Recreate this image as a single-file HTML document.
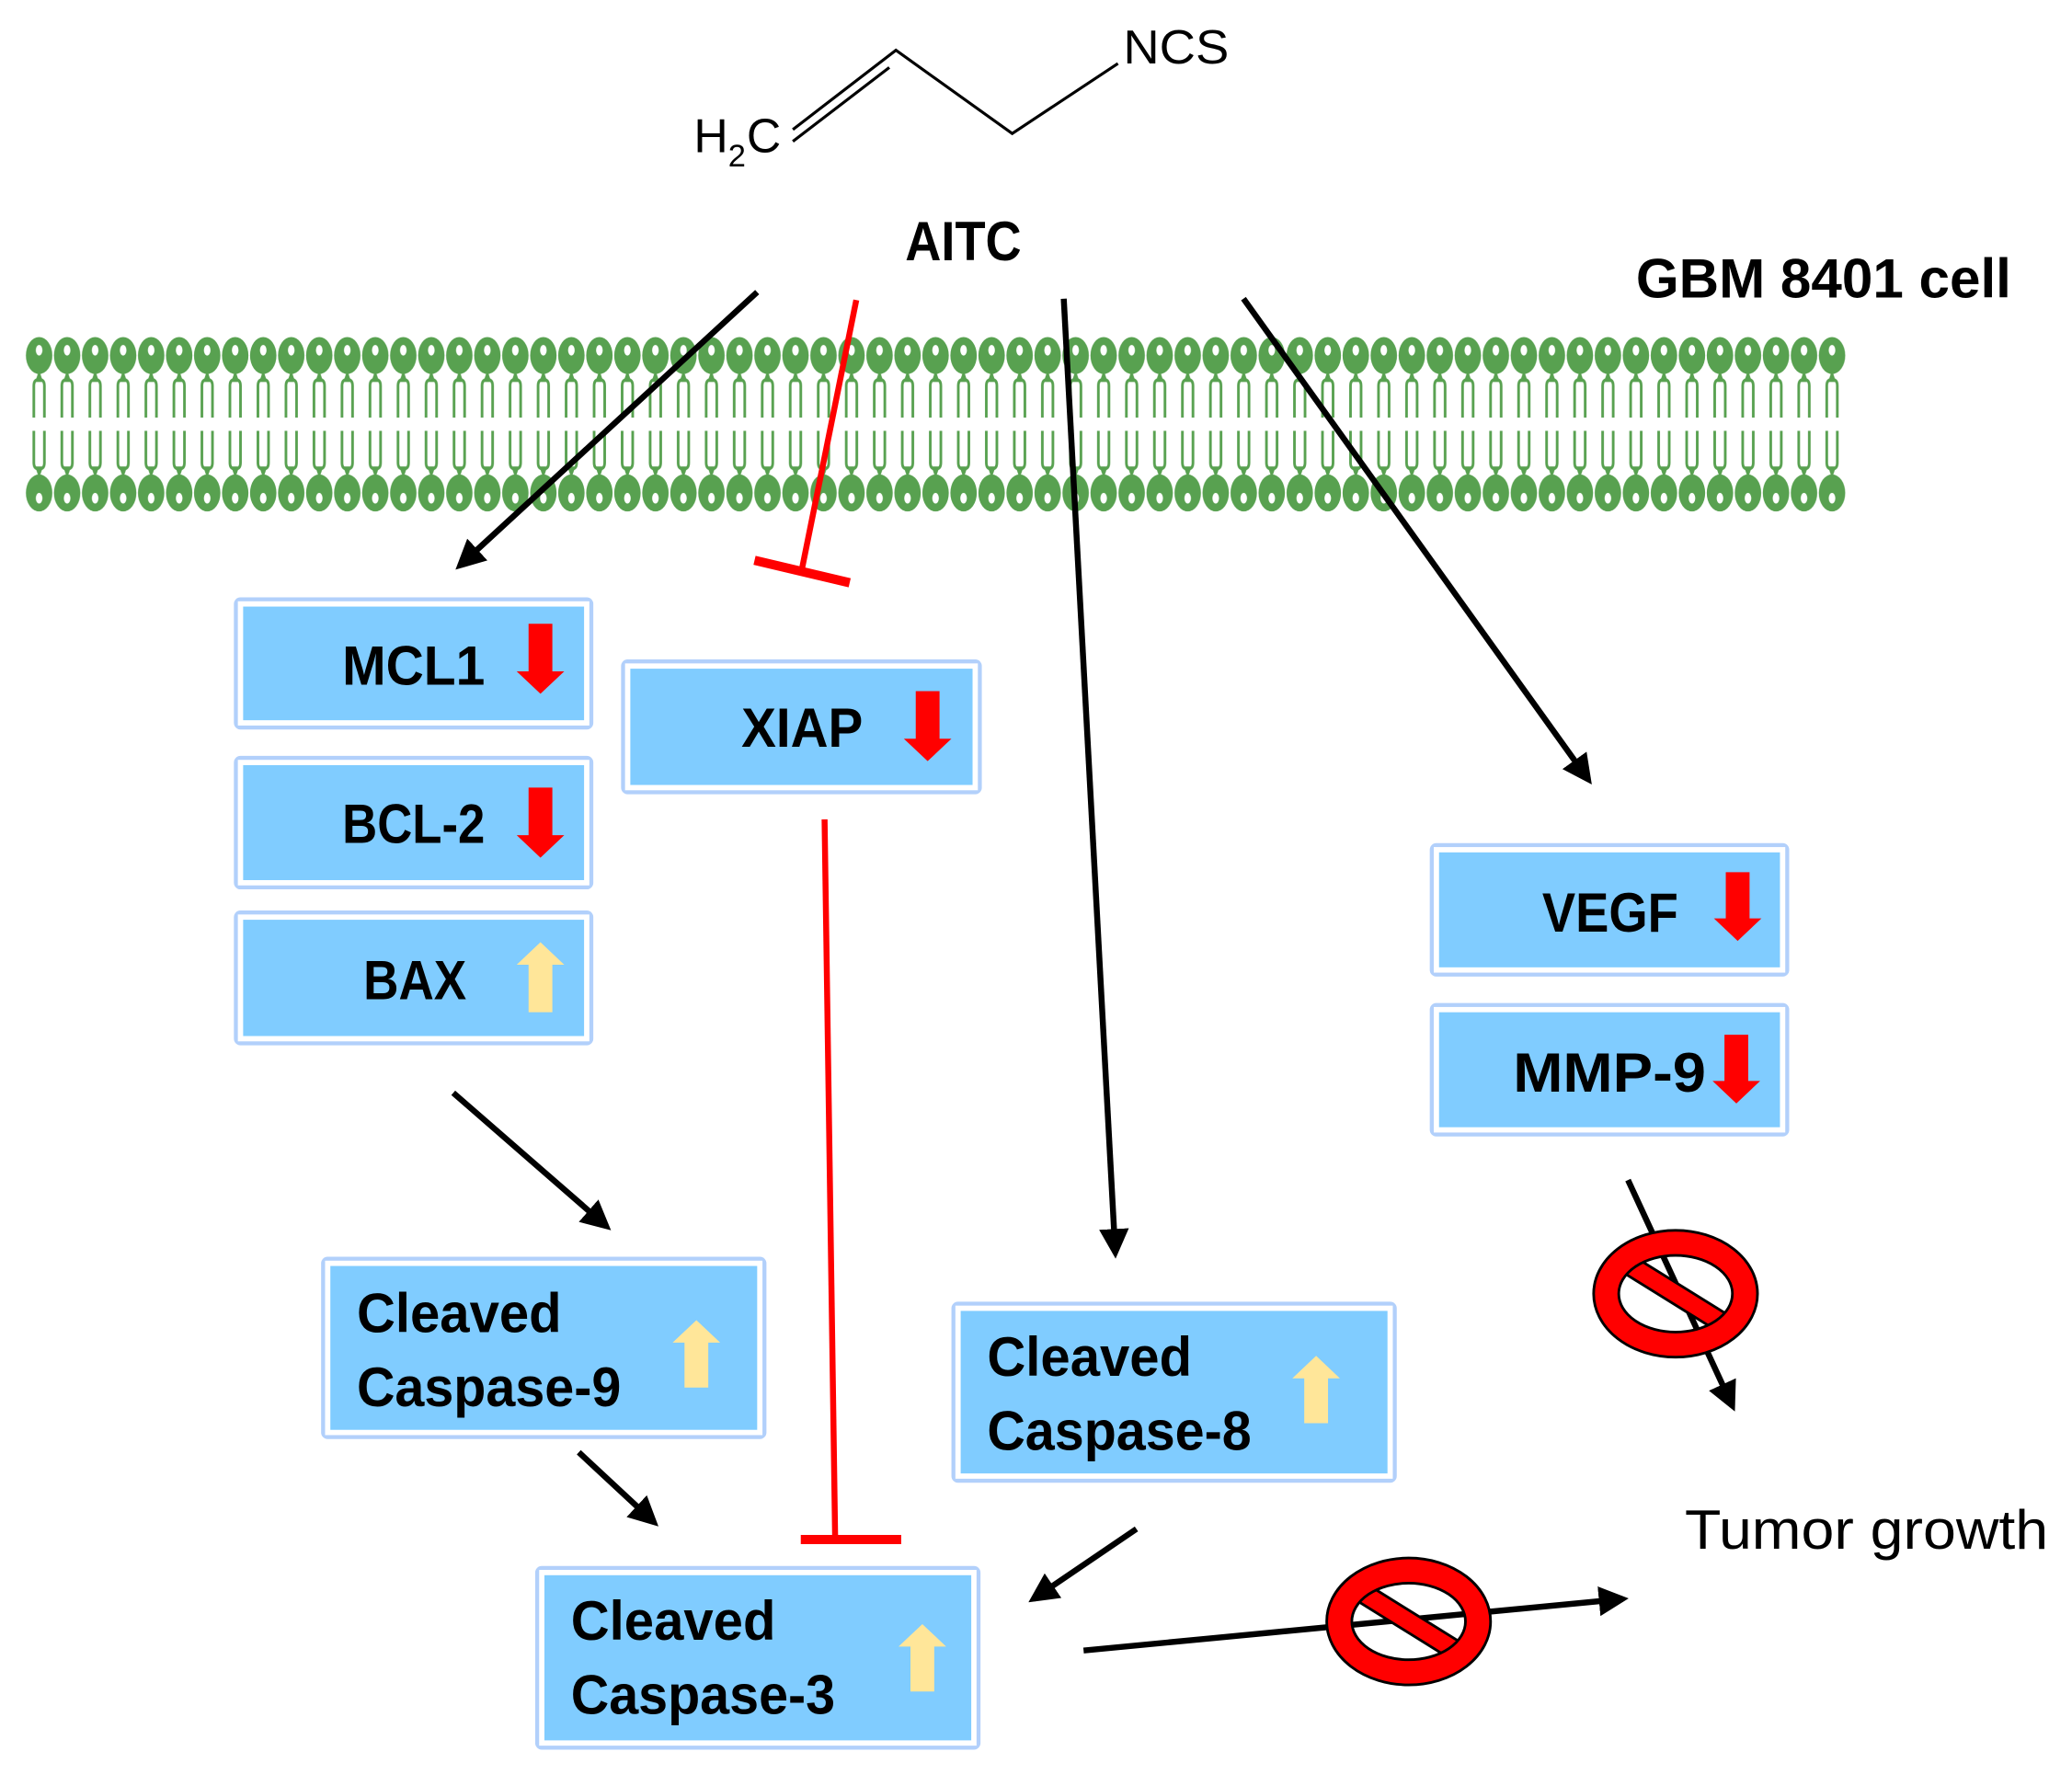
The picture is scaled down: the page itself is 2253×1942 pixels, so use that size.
<!DOCTYPE html>
<html><head><meta charset="utf-8"><style>
html,body{margin:0;padding:0;background:#fff}
svg{display:block}
text{font-family:"Liberation Sans",sans-serif}
.b{font-weight:bold;font-size:42px;fill:#000}
</style></head><body>
<svg width="2253" height="1942" viewBox="0 0 1568 1351.5" xmlns="http://www.w3.org/2000/svg">
<defs>
<marker id="ah" viewBox="0 0 10 10" refX="8" refY="5" markerWidth="5" markerHeight="5" markerUnits="strokeWidth" orient="auto"><path d="M0,0 L10,5 L0,10 Z" fill="#000"/></marker>
<g id="lip">
<path d="M-4,316 V292 Q-4,287 0,287 Q4,287 4,292 V316" stroke="#58a150" stroke-width="2" fill="none"/>
<path d="M0,280 L-3,289 L3,289 Z" fill="#58a150"/>
<ellipse cx="0" cy="269" rx="10" ry="14" fill="#58a150"/>
<ellipse cx="0" cy="265" rx="2.5" ry="4" fill="#fff"/>
</g>
<g id="lip2"><use href="#lip"/><use href="#lip" transform="translate(0,642) scale(1,-1)"/></g>
<pattern id="mem" patternUnits="userSpaceOnUse" x="19" y="0" width="21.2" height="1351"><use href="#lip2" x="10.6"/></pattern>
<g id="nosign">
<path fill="#f00" stroke="#000" stroke-width="2" d="M-46,-20 L-36,-31 L46,20 L36,31 Z"/>
<path fill-rule="evenodd" fill="#f00" stroke="#000" stroke-width="2" d="M-62,0 A62,48 0 1,0 62,0 A62,48 0 1,0 -62,0 Z M-43,0 A43,29 0 1,1 43,0 A43,29 0 1,1 -43,0 Z"/>
</g>
</defs>
<rect width="1568" height="1351.5" fill="#fff"/>
<rect x="19" y="250" width="1378" height="140" fill="url(#mem)"/>

<g stroke="#000" stroke-width="2.2" fill="none">
<path d="M600,98 L678,38 L766,101 L846,48"/>
<path d="M600,107 L673,51"/>
</g>
<text x="525" y="115" font-size="36">H</text>
<text x="551" y="126" font-size="24">2</text>
<text x="565" y="115" font-size="36">C</text>
<text x="850" y="48" font-size="36" textLength="80" lengthAdjust="spacingAndGlyphs">NCS</text>
<text x="685" y="197" class="b" font-size="46" textLength="88" lengthAdjust="spacingAndGlyphs">AITC</text>
<text x="1238" y="225" class="b" font-size="45" textLength="284" lengthAdjust="spacingAndGlyphs">GBM 8401 cell</text>

<g stroke="#000" stroke-width="4.5" fill="none">
<line x1="573" y1="221" x2="348" y2="428" marker-end="url(#ah)"/>
<line x1="805" y1="226" x2="844" y2="948" marker-end="url(#ah)"/>
<line x1="941" y1="226" x2="1202" y2="590" marker-end="url(#ah)"/>
<line x1="343" y1="827" x2="459" y2="928" marker-end="url(#ah)"/>
<line x1="438" y1="1099" x2="495" y2="1152" marker-end="url(#ah)"/>
<line x1="860" y1="1157" x2="782" y2="1210" marker-end="url(#ah)"/>
<line x1="820" y1="1249" x2="1228" y2="1210" marker-end="url(#ah)"/>
<line x1="1232" y1="893" x2="1311" y2="1064" marker-end="url(#ah)"/>
</g>
<g stroke="#f00" fill="none">
<line x1="648" y1="227" x2="607" y2="430" stroke-width="4.5"/>
<line x1="571" y1="424" x2="643" y2="441" stroke-width="7"/>
<line x1="624" y1="620" x2="632" y2="1164" stroke-width="4.5"/>
<line x1="606" y1="1165" x2="682" y2="1165" stroke-width="7"/>
</g>

<g>
<rect x="177" y="452" width="272" height="100" rx="5" fill="#b2d0fb"/><rect x="180" y="455" width="266" height="94" fill="#fff"/><rect x="184" y="459" width="258" height="86" fill="#80ccff"/>
<rect x="177" y="572" width="272" height="101" rx="5" fill="#b2d0fb"/><rect x="180" y="575" width="266" height="95" fill="#fff"/><rect x="184" y="579" width="258" height="87" fill="#80ccff"/>
<rect x="177" y="689" width="272" height="102" rx="5" fill="#b2d0fb"/><rect x="180" y="692" width="266" height="96" fill="#fff"/><rect x="184" y="696" width="258" height="88" fill="#80ccff"/>
<rect x="470" y="499" width="273" height="102" rx="5" fill="#b2d0fb"/><rect x="473" y="502" width="267" height="96" fill="#fff"/><rect x="477" y="506" width="259" height="88" fill="#80ccff"/>
<rect x="1082" y="638" width="272" height="101" rx="5" fill="#b2d0fb"/><rect x="1085" y="641" width="266" height="95" fill="#fff"/><rect x="1089" y="645" width="258" height="87" fill="#80ccff"/>
<rect x="1082" y="759" width="272" height="101" rx="5" fill="#b2d0fb"/><rect x="1085" y="762" width="266" height="95" fill="#fff"/><rect x="1089" y="766" width="258" height="87" fill="#80ccff"/>
<rect x="243" y="951" width="337" height="138" rx="5" fill="#b2d0fb"/><rect x="246" y="954" width="331" height="132" fill="#fff"/><rect x="250" y="958" width="323" height="124" fill="#80ccff"/>
<rect x="720" y="985" width="337" height="137" rx="5" fill="#b2d0fb"/><rect x="723" y="988" width="331" height="131" fill="#fff"/><rect x="727" y="992" width="323" height="123" fill="#80ccff"/>
<rect x="405" y="1185" width="337" height="139" rx="5" fill="#b2d0fb"/><rect x="408" y="1188" width="331" height="133" fill="#fff"/><rect x="412" y="1192" width="323" height="125" fill="#80ccff"/>
</g>
<g class="b">
<text x="259" y="518" class="b" textLength="108" lengthAdjust="spacingAndGlyphs">MCL1</text>
<text x="259" y="638" class="b" textLength="108" lengthAdjust="spacingAndGlyphs">BCL-2</text>
<text x="275" y="756" class="b" textLength="78" lengthAdjust="spacingAndGlyphs">BAX</text>
<text x="561" y="565" class="b" textLength="92" lengthAdjust="spacingAndGlyphs">XIAP</text>
<text x="1167" y="705" class="b" textLength="103" lengthAdjust="spacingAndGlyphs">VEGF</text>
<text x="1145" y="826" class="b" textLength="146" lengthAdjust="spacingAndGlyphs">MMP-9</text>
<text x="270" y="1008" class="b" textLength="155" lengthAdjust="spacingAndGlyphs">Cleaved</text>
<text x="270" y="1064" class="b" textLength="200" lengthAdjust="spacingAndGlyphs">Caspase-9</text>
<text x="747" y="1041" class="b" textLength="155" lengthAdjust="spacingAndGlyphs">Cleaved</text>
<text x="747" y="1097" class="b" textLength="200" lengthAdjust="spacingAndGlyphs">Caspase-8</text>
<text x="432" y="1241" class="b" textLength="155" lengthAdjust="spacingAndGlyphs">Cleaved</text>
<text x="432" y="1297" class="b" textLength="200" lengthAdjust="spacingAndGlyphs">Caspase-3</text>
</g>
<g fill="#f00">
<path d="M400,472 H418 V508 H427 L409,525 L391,508 H400 Z"/>
<path d="M400,596 H418 V632 H427 L409,649 L391,632 H400 Z"/>
<path d="M693,523 H711 V559 H720 L702,576 L684,559 H693 Z"/>
<path d="M1306,660 H1324 V695 H1333 L1315,712 L1297,695 H1306 Z"/>
<path d="M1305,783 H1323 V818 H1332 L1314,835 L1296,818 H1305 Z"/>
</g>
<g fill="#ffe699">
<path d="M400,766 H418 V730 H427 L409,713 L391,730 H400 Z"/>
<path d="M518,1050 H536 V1016 H545 L527,999 L509,1016 H518 Z"/>
<path d="M987,1077 H1005 V1043 H1014 L996,1026 L978,1043 H987 Z"/>
<path d="M689,1280 H707 V1246 H716 L698,1229 L680,1246 H689 Z"/>
</g>
<use href="#nosign" transform="translate(1268,979)"/>
<use href="#nosign" transform="translate(1066,1227)"/>
<text x="1275" y="1172" font-size="42" textLength="275" lengthAdjust="spacingAndGlyphs" fill="#000">Tumor growth</text>
</svg>
</body></html>
